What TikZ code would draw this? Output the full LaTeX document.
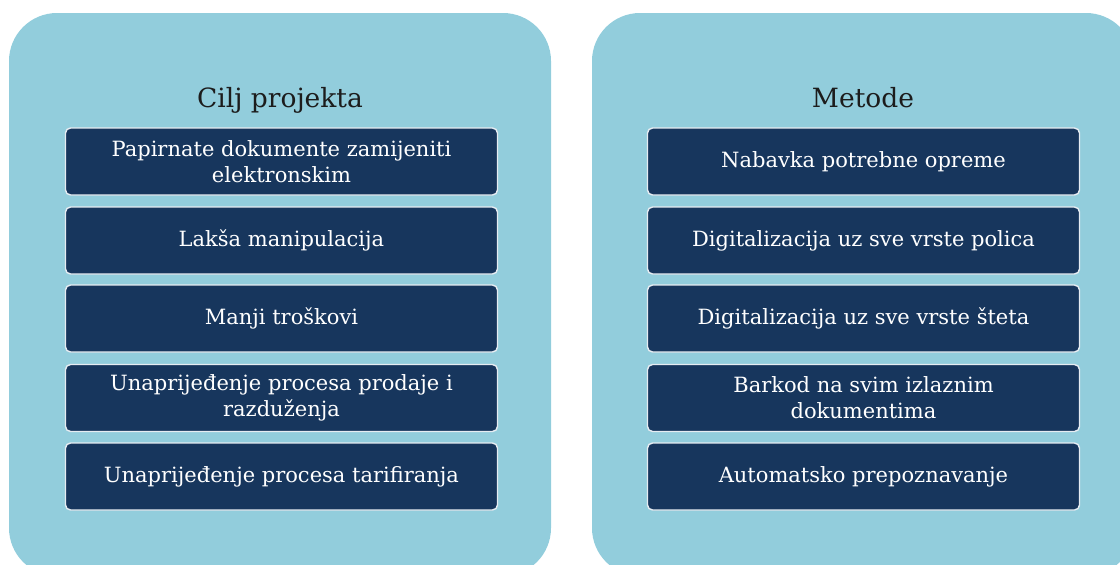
\documentclass[tikz,border=0pt]{standalone}
\usepackage{fontspec}
\setmainfont{DejaVu Serif}
\definecolor{panelblue}{HTML}{92CDDC}
\definecolor{navyfill}{HTML}{17365D}
\definecolor{titleink}{HTML}{1C1C1C}
\definecolor{edgeline}{HTML}{E6ECF2}
\begin{document}
\begin{tikzpicture}[x=1pt,y=-1pt,
  panel/.style={fill=panelblue, rounded corners=48pt},
  itembox/.style={rectangle, rounded corners=5pt, fill=navyfill, draw=edgeline,
    line width=1.4pt, minimum width=432pt, minimum height=67pt, text=white,
    align=center, inner sep=0pt, font=\fontsize{21}{26}\selectfont},
  heading/.style={anchor=base, text=titleink, inner sep=0pt,
    font=\fontsize{26.5}{30}\selectfont}]
\useasboundingbox (0,0) rectangle (1120,565);
\begin{scope}
  \clip (0,0) rectangle (1120,565);
  \fill[panel] (9,13) rectangle (551,576);
  \fill[panel] (592,13) rectangle (1134,576);
\end{scope}

% column headings
\node[heading] (goalhead) at (280,107) {Cilj projekta};
\node[heading] (methodhead) at (863,107) {Metode};

% left column: project goals
\node[itembox] (g1) at (281.5,161.5) {Papirnate dokumente zamijeniti\\elektronskim};
\node[itembox] (g2) at (281.5,240.5) {Lakša manipulacija};
\node[itembox] (g3) at (281.5,318.5) {Manji troškovi};
\node[itembox] (g4) at (281.5,398) {Unaprijeđenje procesa prodaje i\\razduženja};
\node[itembox] (g5) at (281.5,476.5) {Unaprijeđenje procesa tarifiranja};

% right column: methods
\node[itembox] (m1) at (863.5,161.5) {Nabavka potrebne opreme};
\node[itembox] (m2) at (863.5,240.5) {Digitalizacija uz sve vrste polica};
\node[itembox] (m3) at (863.5,318.5) {Digitalizacija uz sve vrste šteta};
\node[itembox] (m4) at (863.5,398) {Barkod na svim izlaznim\\dokumentima};
\node[itembox] (m5) at (863.5,476.5) {Automatsko prepoznavanje};
\end{tikzpicture}
\end{document}
